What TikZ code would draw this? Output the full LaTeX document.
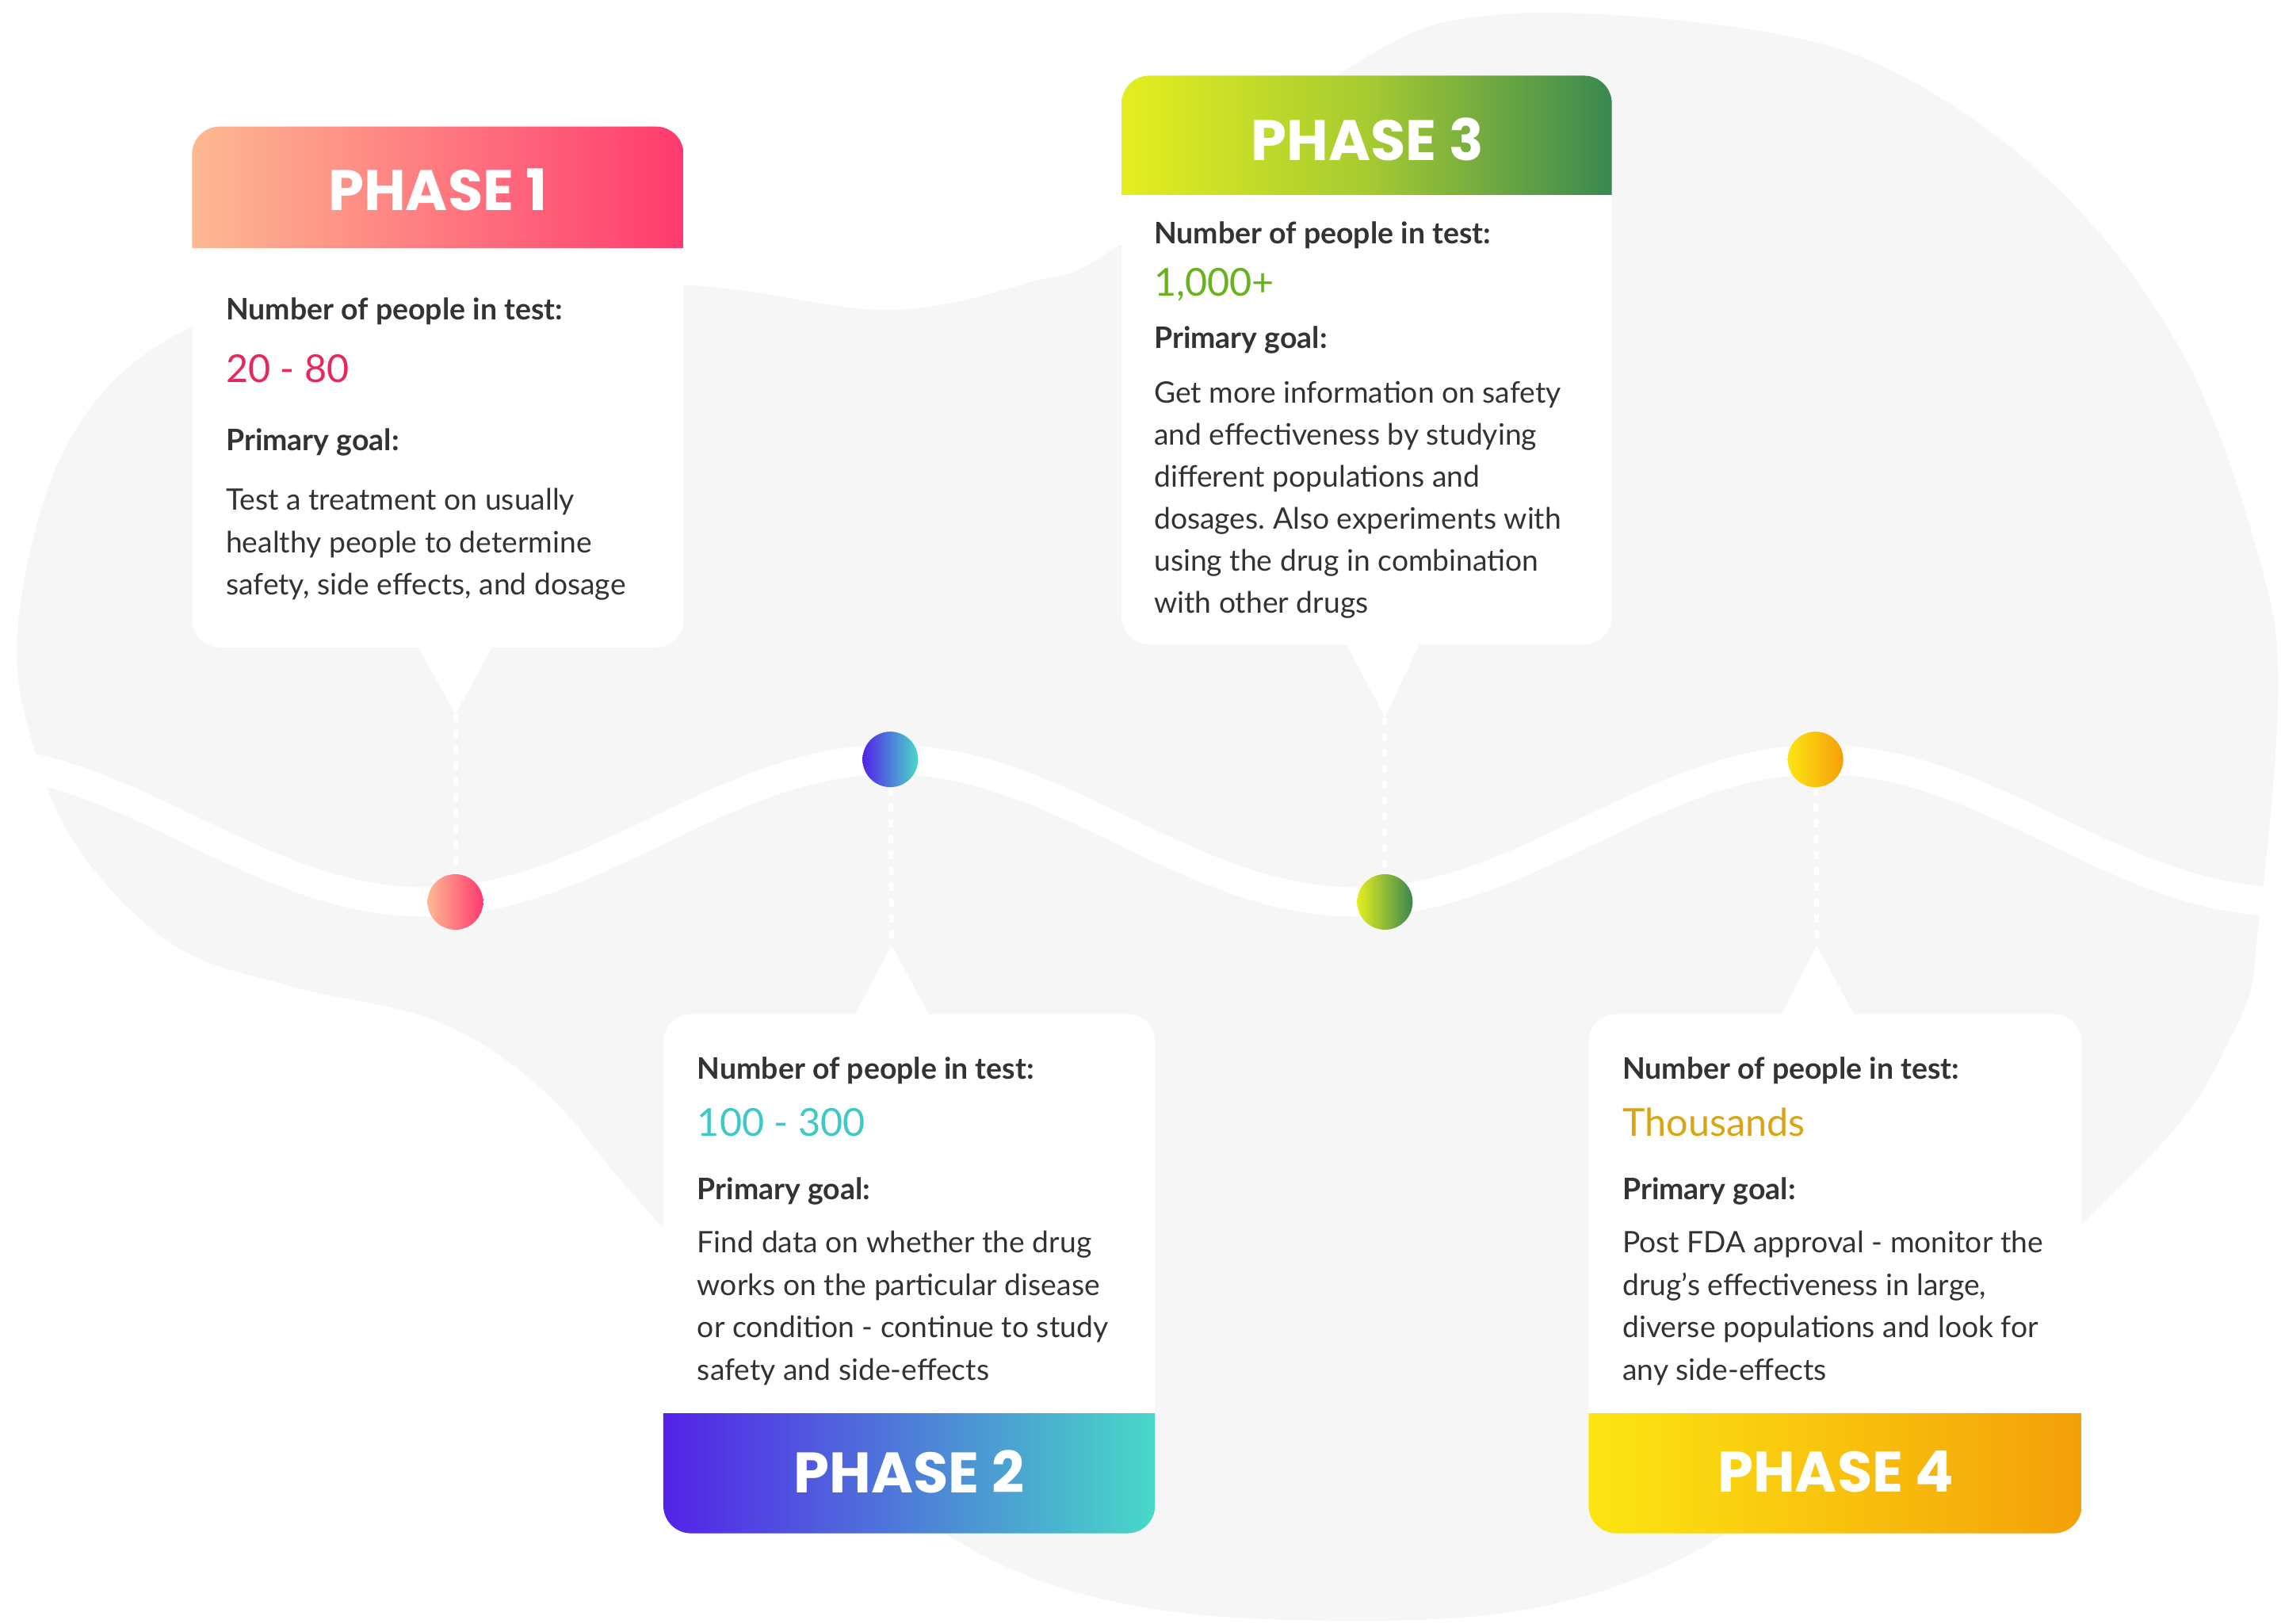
\documentclass[tikz,border=0pt]{standalone}
\usepackage{fontspec}
\setmainfont{Lato}
\newfontfamily\headfont{Poppins}
\usetikzlibrary{positioning}
\frenchspacing

\definecolor{bggray}{HTML}{F6F6F6}
\definecolor{txtdark}{HTML}{333333}
\definecolor{ph1a}{HTML}{FDB992}
\definecolor{ph1b}{HTML}{FF3A6E}
\definecolor{ph1num}{HTML}{E8285C}
\definecolor{ph2a}{HTML}{5322E8}
\definecolor{ph2b}{HTML}{48D9C8}
\definecolor{ph2num}{HTML}{3FC8C8}
\definecolor{ph3a}{HTML}{E4EE1F}
\definecolor{ph3m}{HTML}{A6CB31}
\definecolor{ph3b}{HTML}{3A8850}
\definecolor{ph3num}{HTML}{68B31C}
\definecolor{ph4a}{HTML}{FCE512}
\definecolor{ph4b}{HTML}{F4A009}
\definecolor{ph4num}{HTML}{D9A514}

\tikzset{
  blob/.style={fill=bggray},
  road/.style={white, line width=3.7mm},
  card/.style={fill=white, rounded corners=3.5mm},
  headbar/.style={rounded corners=3.5mm},
  headtxt/.style={inner sep=0, text=white, font=\headfont\bfseries\fontsize{20.5}{21}\selectfont},
  lbl/.style={anchor=base west, inner sep=0, text=txtdark, font=\bfseries\fontsize{10.65}{13}\selectfont},
  num/.style={anchor=base west, inner sep=0, font=\fontsize{13.8}{16}\selectfont},
  bodytxt/.style={anchor=base west, inner sep=0, text=txtdark, font=\fontsize{10.6}{13}\selectfont},
  dot/.style={circle, minimum size=7mm, inner sep=0},
  guide/.style={white, line width=0.6mm, dash pattern=on 1mm off 1mm},
}

\begin{document}
\begin{tikzpicture}[x=0.18355mm, y=-0.18355mm]
	\useasboundingbox (0,0) rectangle (1568,1115.8);

	%background blob
	\fill[blob] plot[smooth cycle, tension=0.6] coordinates {
		(12,434) (35,330) (80,260) (150,218) (260,198) (470,196) (610,213)
		(708,194) (769,169) (930,45) (1030,10) (1202,20) (1311,54) (1421,136)
		(1503,248) (1553,384) (1566,474) (1553,632) (1536,708) (1456,817)
		(1168,1065) (911,1114) (661,1061) (453,841) (375,751) (300,702)
		(200,678) (120,650) (55,585) (22,510)};

	%road
	\draw[road] plot[domain=0:1568, samples=200] (\x, {571-49*cos(0.5625*(\x-612))});

	%phase 1 card
	\fill[card] (132,87) rectangle (470,445);
	\fill[white] (285,440) -- (313,491) -- (341,440) -- cycle;
	\coordinate (tip1) at (313,491);
	\begin{scope}
		\clip (130,80) rectangle (472,170);
		\shade[headbar, left color=ph1a, right color=ph1b] (132,87) rectangle (470,210);
	\end{scope}
	\node[headtxt] (h1) at (301,130.5) {PHASE 1};

	%phase 3 card
	\fill[card] (771,52) rectangle (1108,443);
	\fill[white] (923,438) -- (952,493) -- (978,438) -- cycle;
	\coordinate (tip3) at (952,493);
	\begin{scope}
		\clip (769,45) rectangle (1110,134);
		\shade[headbar, left color=ph3a, right color=ph3b, middle color=ph3m] (771,52) rectangle (1108,175);
	\end{scope}
	\node[headtxt] (h3) at (940,95.7) {PHASE 3};

	%phase 2 card
	\fill[card] (456,697) rectangle (794,1054);
	\fill[white] (585,702) -- (613,650) -- (641,702) -- cycle;
	\coordinate (tip2) at (613,650);
	\begin{scope}
		\clip (454,971.5) rectangle (796,1060);
		\shade[headbar, left color=ph2a, right color=ph2b] (456,930) rectangle (794,1054);
	\end{scope}
	\node[headtxt] (h2) at (625,1011.4) {PHASE 2};

	%phase 4 card
	\fill[card] (1092,697) rectangle (1431,1054);
	\fill[white] (1222,702) -- (1249,650) -- (1277,702) -- cycle;
	\coordinate (tip4) at (1249,650);
	\begin{scope}
		\clip (1090,971.5) rectangle (1433,1060);
		\shade[headbar, left color=ph4a, right color=ph4b] (1092,930) rectangle (1431,1054);
	\end{scope}
	\node[headtxt] (h4) at (1262,1011.4) {PHASE 4};

	%dots on the road
	\node[dot, left color=ph1a, right color=ph1b] (dot1) at (313,620) {};
	\node[dot, left color=ph2a, right color=ph2b] (dot2) at (612,522) {};
	\node[dot, left color=ph3a, right color=ph3b] (dot3) at (952,620) {};
	\node[dot, left color=ph4a, right color=ph4b] (dot4) at (1248,522) {};

	%guides
	\draw[guide] (tip1) -- (dot1);
	\draw[guide] (dot2) -- (tip2);
	\draw[guide] (tip3) -- (dot3);
	\draw[guide] (dot4) -- (tip4);

	%phase 1 text
	\node[lbl] (n1) at (155,220) {Number of people in test:};
	\node[num, text=ph1num] (v1) at (155,263) {20 - 80};
	\node[lbl] (g1) at (155,310) {Primary goal:};
	\foreach \t [count=\i] in {Test a treatment on usually, healthy people to determine, {safety, side effects, and dosage}}
		\node[bodytxt] (t1\i) at (155,{350.5+29.3*(\i-1)}) {\t};

	%phase 3 text
	\node[lbl] (n3) at (793,167.6) {Number of people in test:};
	\node[num, text=ph3num] (v3) at (793,203.5) {1,000+};
	\node[lbl] (g3) at (793,239.7) {Primary goal:};
	\foreach \t [count=\i] in {Get more information on safety, and effectiveness by studying, different populations and, dosages. Also experiments with, using the drug in combination, with other drugs}
		\node[bodytxt] (t3\i) at (793,{277+28.9*(\i-1)}) {\t};

	%phase 2 text
	\node[lbl] (n2) at (479,741.8) {Number of people in test:};
	\node[num, text=ph2num] (v2) at (479,781) {100 - 300};
	\node[lbl] (g2) at (479,824.8) {Primary goal:};
	\foreach \t [count=\i] in {Find data on whether the drug, works on the particular disease, or condition - continue to study, safety and side-effects}
		\node[bodytxt] (t2\i) at (479,{861+29.3*(\i-1)}) {\t};

	%phase 4 text
	\node[lbl] (n4) at (1115,741.8) {Number of people in test:};
	\node[num, text=ph4num] (v4) at (1115,781) {Thousands};
	\node[lbl] (g4) at (1115,824.8) {Primary goal:};
	\foreach \t [count=\i] in {Post FDA approval - monitor the, {drug’s effectiveness in large,}, diverse populations and look for, any side-effects}
		\node[bodytxt] (t4\i) at (1115,{861+29.3*(\i-1)}) {\t};
\end{tikzpicture}
\end{document}
